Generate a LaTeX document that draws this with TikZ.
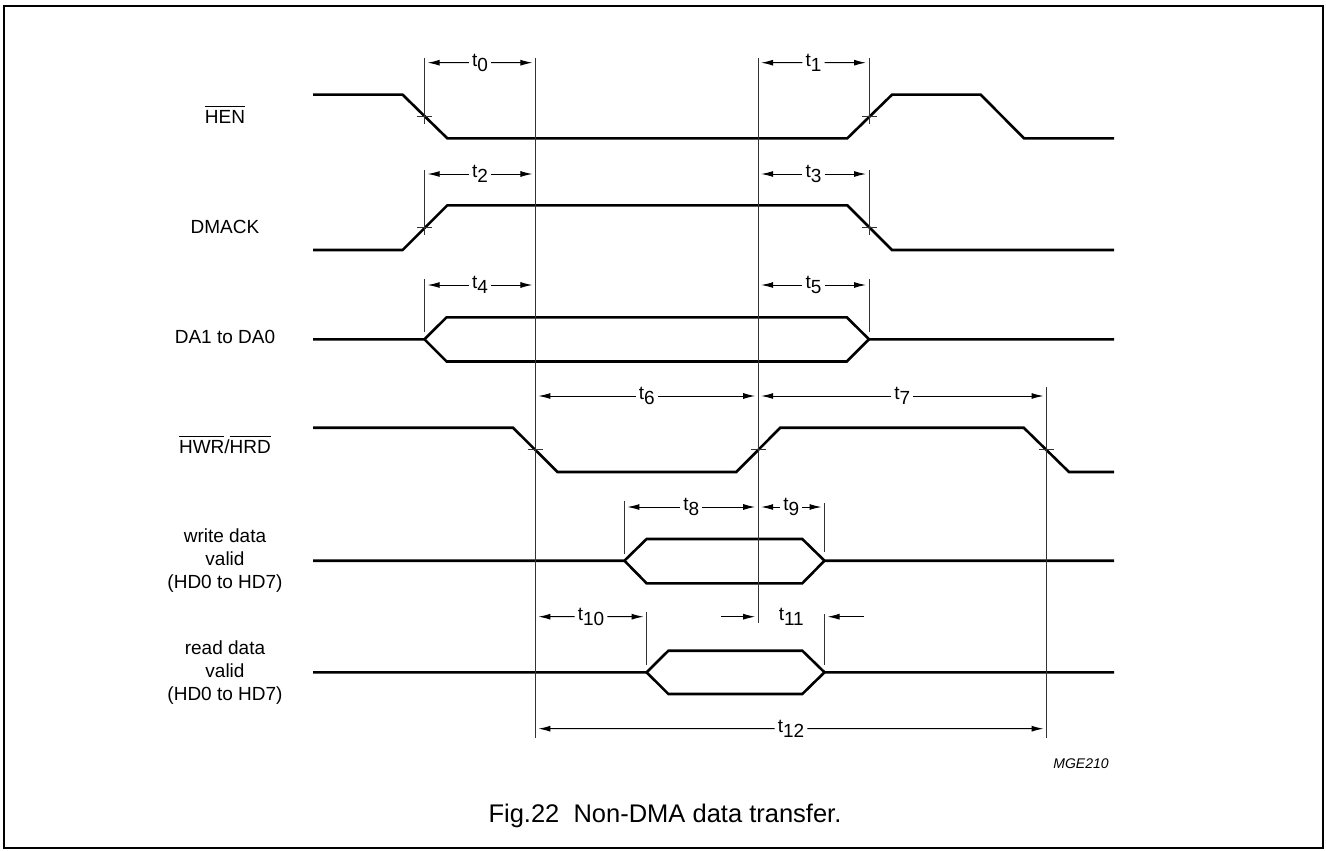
\documentclass[tikz,border=0pt]{standalone}
\usepackage{fontspec}
\setmainfont{Liberation Sans}
\usetikzlibrary{arrows.meta,calc}
\newcommand{\ovl}[1]{\vbox{\hrule height 1pt\kern 3pt\hbox{#1}}}

\begin{document}
\begin{tikzpicture}[x=1pt, y=-1pt,
    sig/.style={line width=2.6pt},
    guide/.style={line width=1pt, black!80},
    tarr/.style={line width=1pt, -{Latex[length=12pt,width=6pt]}, shorten >=3pt},
    tlab/.style={inner sep=3pt, font=\fontsize{19}{22}\selectfont},
    siglab/.style={align=center, font=\fontsize{19}{22.7}\selectfont}]
            \useasboundingbox (0,0) rectangle (1326,851);
            \draw[line width=1.5pt] (4,6) rectangle (1323,848);

            % Define nodes
            \node[siglab, anchor=base] (hen)   at (225,123) {\ovl{HEN}};
            \node[siglab, anchor=base] (dmack) at (225,233.3) {DMACK};
            \node[siglab, anchor=base] (da)    at (225,343.3) {DA1 to DA0};
            \node[siglab, anchor=base] (hwr)   at (225,453.3) {\ovl{HWR}/\ovl{HRD}};
            \node[siglab] (wdata) at (225,560.6) {write data\\valid\\(HD0 to HD7)};
            \node[siglab] (rdata) at (225,672.6) {read data\\valid\\(HD0 to HD7)};

            % Waveforms
            \draw[sig] (313,94.7) -- (402.6,94.7) -- (447.3,138.3) -- (847.3,138.3)
                -- (892,94.7) -- (980.7,94.7) -- (1024,138.3) -- (1114,138.3);
            \draw[sig] (313,250) -- (402.6,250) -- (447.3,205.3) -- (847.3,205.3)
                -- (892,250) -- (1114,250);
            \draw[sig] (313,339.3) -- (424.4,339.3) -- (446.6,317.3) -- (846.8,317.3)
                -- (869,339.3) -- (1114,339.3);
            \draw[sig] (424.4,339.3) -- (446.6,361.5) -- (846.8,361.5) -- (869,339.3);
            \draw[sig] (313,427.7) -- (513,427.7) -- (557.5,472) -- (736.3,472)
                -- (780.3,427.7) -- (1023.7,427.7) -- (1069,472) -- (1114,472);
            \draw[sig] (313,560.7) -- (624.4,560.7) -- (646.6,539) -- (802.3,539)
                -- (824.5,560.7) -- (1114,560.7);
            \draw[sig] (624.4,560.7) -- (646.6,583.3) -- (802.3,583.3) -- (824.5,560.7);
            \draw[sig] (313,672.3) -- (646.6,672.3) -- (668.4,650.7) -- (802.3,650.7)
                -- (824.5,672.3) -- (1114,672.3);
            \draw[sig] (646.6,672.3) -- (668.4,694) -- (802.3,694) -- (824.5,672.3);

            % Reference lines
            \draw[guide] (535.4,58) -- (535.4,738.3);
            \draw[guide] (758.2,58) -- (758.2,623.3);
            \draw[guide] (1046.5,387.3) -- (1046.5,738.3);
            \foreach \x in {424.7,869}
              \foreach \ya/\yb in {58/124,170/235,279/331.7}
                \draw[guide] (\x,\ya) -- (\x,\yb);
            \draw[guide] (624.4,500.7) -- (624.4,554);
            \draw[guide] (824.5,503) -- (824.5,551.7);
            \draw[guide] (646.6,612) -- (646.6,665);
            \draw[guide] (824.5,614) -- (824.5,665);
            \foreach \cx/\cy in {424.9/116.5,869.6/116.5,424.9/227.6,869.6/227.6,
                                 535.2/449.9,758.3/449.9,1046.4/449.9}
              \draw[guide] ({\cx-7.5},\cy) -- ({\cx+7.5},\cy);

            % Connect the nodes
            \foreach \n/\xa/\xb/\y in {0/424.7/535.4/62.7, 1/758.2/869/62.7,
                                       2/424.7/535.4/174, 3/758.2/869/174,
                                       4/424.7/535.4/285, 5/758.2/869/285,
                                       6/535.4/758.2/396, 7/758.2/1046.5/396,
                                       8/624.4/758.2/507, 9/758.2/824.5/507,
                                       10/535.4/646.6/616.7, 12/535.4/1046.5/728.7}
              {
                \coordinate (l\n) at (\xa,\y);
                \coordinate (r\n) at (\xb,\y);
                \node[tlab] (t\n) at ($(l\n)!0.5!(r\n)$) {t\lower5pt\hbox{\n}};
                \draw[tarr] (t\n) -- (l\n);
                \draw[tarr] (t\n) -- (r\n);
              }
            \node[tlab] (t11) at (791.3,616.7) {t\lower5pt\hbox{11}};
            \coordinate (l11) at (721,616.7);
            \coordinate (m11) at (758.2,616.7);
            \coordinate (r11) at (863.6,616.7);
            \coordinate (n11) at (824.5,616.7);
            \draw[tarr] (l11) -- (m11);
            \draw[tarr] (r11) -- (n11);

            % Caption
            \node[anchor=base, font=\fontsize{14}{16}\selectfont\itshape] (code) at (1081,768) {MGE210};
            \node[anchor=base, font=\fontsize{25.5}{30}\selectfont] (caption) at (665,822.7) {Fig.22~~Non-DMA data transfer.};
\end{tikzpicture}
\end{document}
